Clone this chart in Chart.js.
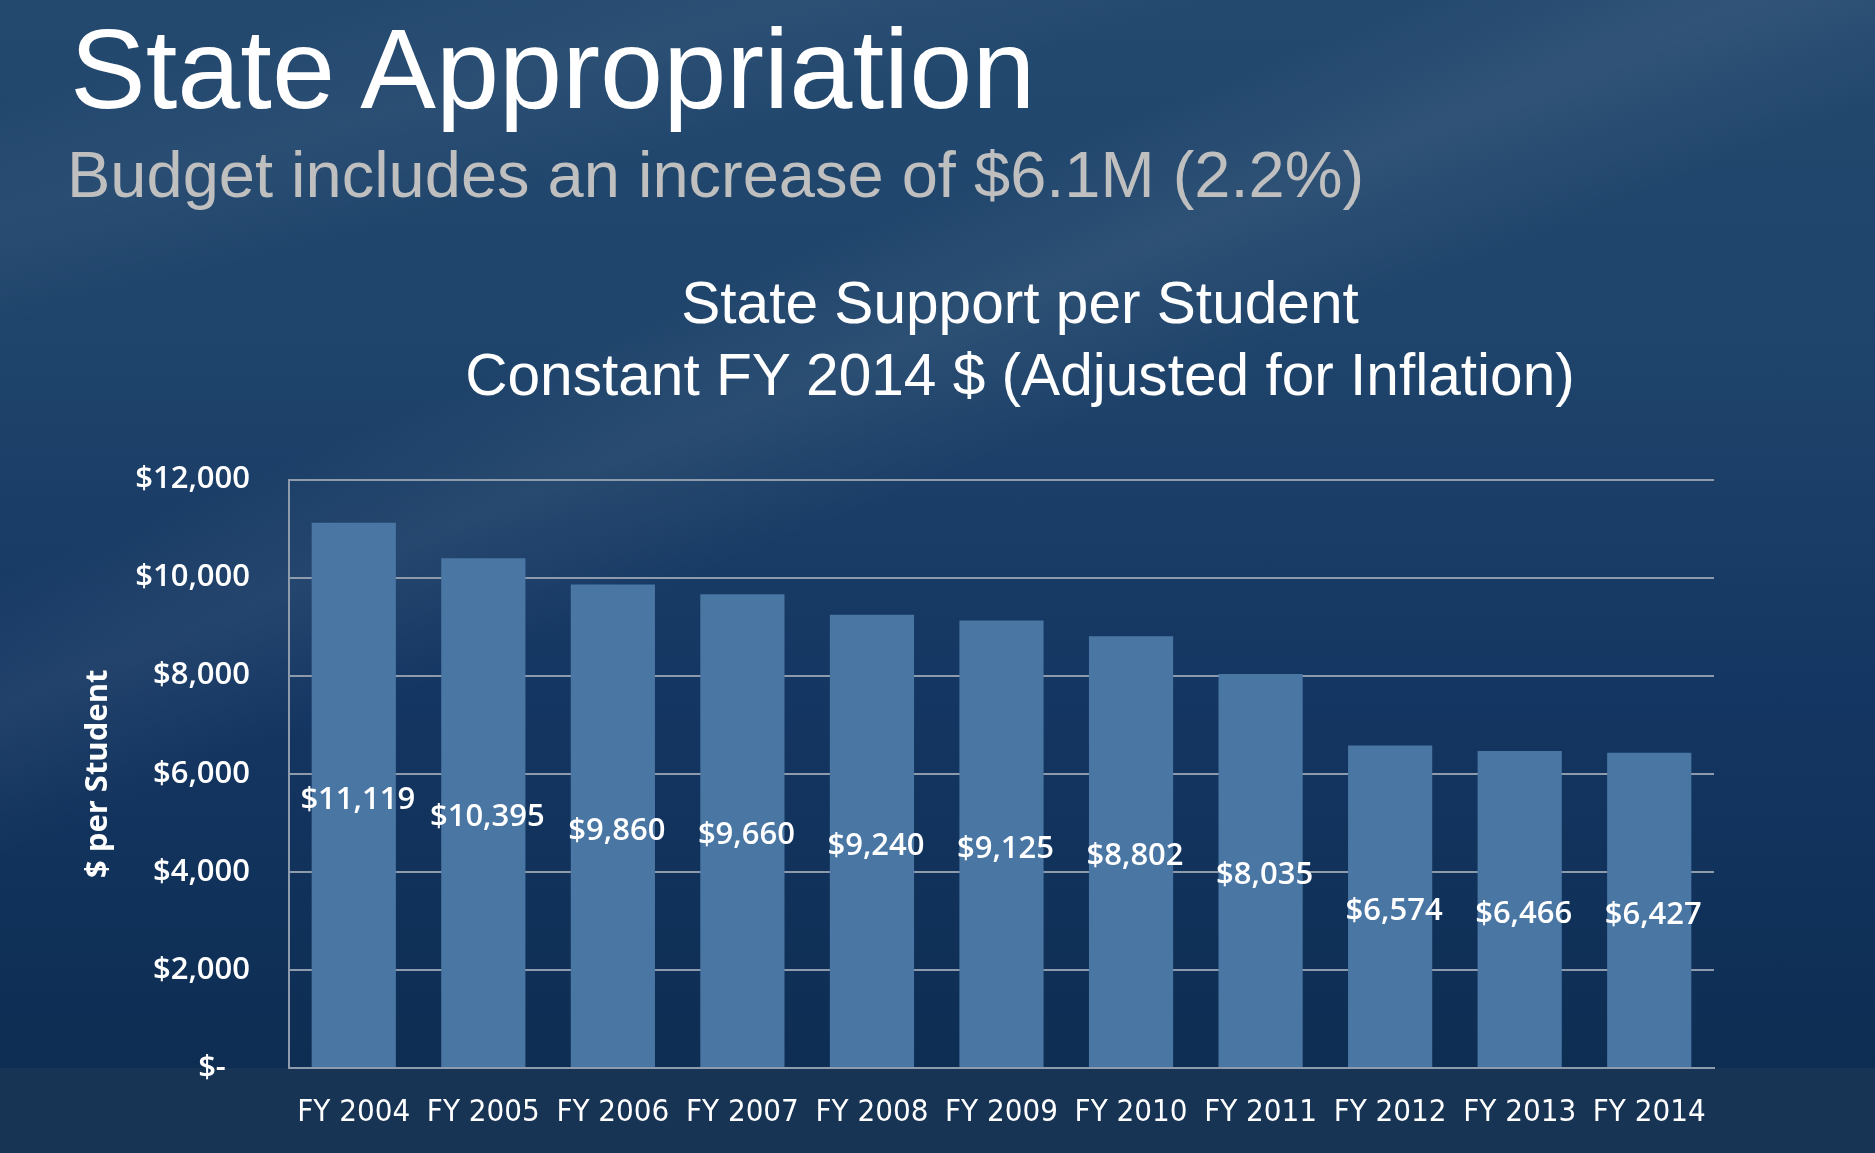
<!DOCTYPE html>
<html>
<head>
<meta charset="utf-8">
<title>State Appropriation</title>
<script src="https://cdn.jsdelivr.net/npm/chart.js@4.4.1/dist/chart.umd.min.js"></script>
<style>
  html, body {
    margin: 0;
    padding: 0;
    width: 1875px;
    height: 1153px;
    overflow: hidden;
  }
  body {
    position: relative;
    background:
      linear-gradient(to bottom, rgba(0,0,0,0) 1068px, #183454 1068px),
      linear-gradient(158deg, rgba(255,255,255,0) 30%, rgba(255,255,255,0.06) 37%, rgba(255,255,255,0) 45%),
      linear-gradient(165deg, rgba(255,255,255,0) 6%, rgba(255,255,255,0.04) 13%, rgba(255,255,255,0) 20%),
      linear-gradient(180deg, #24496f 0%, #1f446b 30%, #143662 60%, #0e2e54 90%, #0c2b50 100%);
    font-family: "Liberation Sans", Arial, sans-serif;
  }
  .title {
    position: absolute;
    left: 70px;
    top: 12px;
    font-size: 113.5px;
    line-height: 113.5px;
    color: #ffffff;
    white-space: nowrap;
  }
  .subtitle {
    position: absolute;
    left: 67px;
    top: 142px;
    font-size: 65px;
    line-height: 65px;
    color: #bfbfbf;
    white-space: nowrap;
  }
  .chart-title {
    position: absolute;
    left: 1020px;
    top: 267px;
    transform: translateX(-50%);
    font-size: 58.6px;
    line-height: 72px;
    color: #ffffff;
    text-align: center;
    white-space: nowrap;
  }
  .chart-wrap {
    position: absolute;
    left: 0;
    top: 380px;
    width: 1875px;
    height: 773px;
  }
</style>
</head>
<body>
<div class="title">State Appropriation</div>
<div class="subtitle">Budget includes an increase of $6.1M (2.2%)</div>
<div class="chart-title">State Support per Student<br>Constant FY 2014 $ (Adjusted for Inflation)</div>
<div class="chart-wrap"><canvas id="barChart"></canvas></div>

<script>
// data
const years = ["FY 2004", "FY 2005", "FY 2006", "FY 2007", "FY 2008", "FY 2009",
  "FY 2010", "FY 2011", "FY 2012", "FY 2013", "FY 2014"];
const perStudent = [11119, 10395, 9860, 9660, 9240, 9125, 8802, 8035, 6574, 6466, 6427];
const yTicks = [0, 2000, 4000, 6000, 8000, 10000, 12000];

const gridGray = "#8d9bad";

function money(v) {
  return "$" + v.toLocaleString("en-US");
}

// draws the value in the middle of each bar
const barLabels = {
  id: "barLabels",
  afterDatasetsDraw(chart) {
    const ctx = chart.ctx;
    const meta = chart.getDatasetMeta(0);
    ctx.save();
    ctx.fillStyle = "#ffffff";
    ctx.font = "600 31px 'Open Sans', sans-serif";
    ctx.textAlign = "center";
    ctx.textBaseline = "middle";
    meta.data.forEach(function (bar, i) {
      const y = (bar.y + bar.base) / 2 + 5;
      ctx.fillText(money(perStudent[i]), bar.x + 4, y);
    });
    ctx.restore();
  },
};

const data = {
  labels: years,
  datasets: [
    {
      label: "State Support per Student",
      data: perStudent,
      backgroundColor: "#4a76a4",
      borderWidth: 0,
      categoryPercentage: 1.0,
      barPercentage: 0.65,
    },
  ],
};

const config = {
  type: "bar",
  data: data,
  plugins: [barLabels],
  options: {
    responsive: true,
    maintainAspectRatio: false,
    animation: false,
    layout: {
      padding: { top: 99.5, right: 161, bottom: 0, left: 0 },
    },
    plugins: {
      legend: { display: false },
      title: { display: false },
      tooltip: { enabled: false },
    },
    scales: {
      y: {
        min: 0,
        max: 12000,
        afterBuildTicks: function (axis) {
          axis.ticks = yTicks.map(function (v) { return { value: v }; });
        },
        afterFit: function (axis) {
          axis.width = 289;
        },
        grid: {
          color: gridGray,
          lineWidth: 2,
          drawTicks: false,
        },
        border: {
          display: true,
          color: gridGray,
          width: 2,
        },
        ticks: {
          padding: 39,
          color: "#ffffff",
          font: { family: "'Open Sans', sans-serif", size: 31, weight: 600 },
          callback: function (value) {
            return value === 0 ? "$-   " : money(value);
          },
        },
        title: {
          display: true,
          text: "$ per Student",
          color: "#ffffff",
          font: { family: "'Open Sans', sans-serif", size: 31, weight: 700 },
          padding: { top: 80, bottom: 0 },
        },
      },
      x: {
        afterFit: function (axis) {
          axis.height = 85;
        },
        grid: {
          display: false,
          drawTicks: false,
        },
        border: {
          display: true,
          color: gridGray,
          width: 2,
        },
        ticks: {
          padding: 26,
          color: "#ffffff",
          maxRotation: 0,
          autoSkip: false,
          font: { family: "'DejaVu Sans Condensed', sans-serif", size: 31 },
        },
      },
    },
  },
};

const ctx = document.getElementById("barChart").getContext("2d");
const myBarChart = new Chart(ctx, config);
</script>
</body>
</html>
